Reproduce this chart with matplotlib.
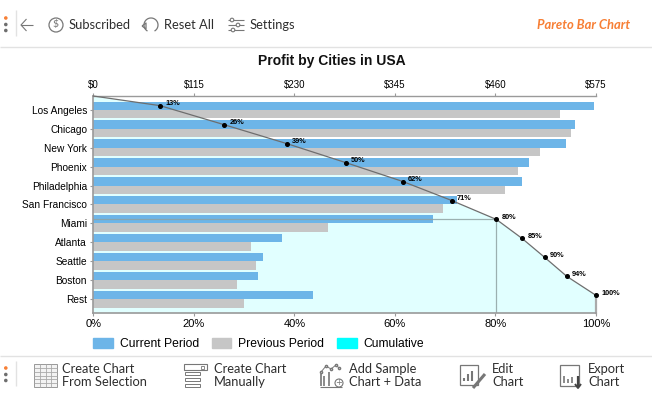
import matplotlib
matplotlib.use("Agg")
import matplotlib.pyplot as plt
from matplotlib.patches import Rectangle, Circle, Patch, Arc

cities = ["Los Angeles", "Chicago", "New York", "Phoenix", "Philadelphia", "San Francisco",
          "Miami", "Atlanta", "Seattle", "Boston", "Rest"]
current_period = [573, 551, 541, 498, 490, 416, 389, 216, 194, 188, 251]
previous_period = [534, 546, 511, 486, 471, 400, 268, 180, 186, 164, 172]
cumulative_pct = [13.3, 26.0, 38.5, 50.2, 61.6, 71.3, 80.2, 85.3, 89.8, 94.2, 100]
cumulative_labels = ["13%", "26%", "39%", "50%", "62%", "71%", "80%", "85%", "90%", "94%", "100%"]
dollar_ticks = [0, 115, 230, 345, 460, 575]
dollar_labels = ["$0", "$115", "$230", "$345", "$460", "$575"]
pct_ticks = [0, 20, 40, 60, 80, 100]
pct_labels = ["0%", "20%", "40%", "60%", "80%", "100%"]

W, H = 652, 400
ARIAL = "Liberation Sans"
UI = "Lato"
BLUE, GREY, CYAN, PALE = "#6DB5E8", "#C6C6C6", "#00FFFF", "#E1FFFF"
AXC = "#9A9A9A"
ICON = "#777777"
ORANGE = "#F77F35"

fig = plt.figure(figsize=(W / 100, H / 100), dpi=100, facecolor="white")
rect = [93.3 / W, 1 - 313 / H, (596 - 93.3) / W, (313 - 96) / H]
ax_fill = fig.add_axes(rect, zorder=1)
ax_bar = fig.add_axes(rect, zorder=2, facecolor="none")
ax_line = fig.add_axes(rect, zorder=3, facecolor="none")
ypos = list(range(len(cities)))
YMIN, YMAX = -0.72, len(cities) - 1 + 0.72
for a in (ax_fill, ax_bar, ax_line):
    a.set_ylim(YMAX, YMIN)
ax_fill.set_xlim(0, 100)
ax_line.set_xlim(0, 100)
ax_bar.set_xlim(0, 575)

line_y = [y - 0.21 for y in ypos]
ax_fill.fill_betweenx([YMIN] + line_y + [YMAX], 0, [0] + cumulative_pct + [100], color=PALE, lw=0)
ax_bar.barh([y - 0.215 for y in ypos], current_period, height=0.43, color=BLUE, lw=0)
ax_bar.barh([y + 0.225 for y in ypos], previous_period, height=0.45, color=GREY, lw=0)

ax_line.plot([0] + cumulative_pct, [YMIN] + line_y, color="#6E6E6E", lw=0.9, zorder=3, clip_on=False)
ax_line.plot(cumulative_pct, line_y, ls="none", marker="o", ms=2.6, color="black", zorder=4, clip_on=False)
ax_line.plot([0, cumulative_pct[6], cumulative_pct[6]], [line_y[6], line_y[6], YMAX],
             color="#8FA3A3", lw=0.9, alpha=0.85, zorder=2)
ax_line.plot([100, 100], [line_y[-1], YMAX], color="#AAAAAA", lw=1.6, zorder=2, clip_on=False)
for x, y, t in zip(cumulative_pct, line_y, cumulative_labels):
    ax_line.annotate(t, (x, y), xytext=(3.8, 1.5), textcoords="offset points", fontsize=5.3,
                     fontweight="bold", family=ARIAL, va="center", ha="left", color="black",
                     annotation_clip=False)

# axes and ticks
ax_line.set_xticks(pct_ticks, pct_labels, family=ARIAL, fontsize=8)
ax_line.set_yticks(ypos, cities, family=ARIAL, fontsize=7.3)
ax_line.tick_params(axis="x", length=2.5, color=AXC, pad=2)
ax_line.tick_params(axis="y", length=2.5, color=AXC, pad=2)
ax_bar.xaxis.tick_top()
ax_bar.set_xticks(dollar_ticks, dollar_labels, family=ARIAL, fontsize=7)
ax_bar.tick_params(axis="x", length=2.5, color=AXC, pad=2)
ax_bar.set_yticks([])
ax_fill.set_xticks([])
ax_fill.set_yticks([])
for a in (ax_fill, ax_bar):
    for s in a.spines.values():
        s.set_visible(False)
for s in ("top", "right"):
    ax_line.spines[s].set_visible(False)
for s in ("left", "bottom"):
    ax_line.spines[s].set_color(AXC)
    ax_line.spines[s].set_linewidth(1.2)
ax_bar.spines["top"].set_visible(True)
ax_bar.spines["top"].set_color(AXC)
ax_bar.spines["top"].set_linewidth(1.0)

fig.text(331.5 / W, 1 - 61 / H, "Profit by Cities in USA", family=ARIAL, fontweight="bold",
         fontsize=10, ha="center", va="center", color="#111111")

leg = fig.legend(
    handles=[Patch(color=BLUE, label="Current Period"), Patch(color=GREY, label="Previous Period"),
             Patch(color=CYAN, label="Cumulative")],
    ncol=3, loc="center left", bbox_to_anchor=(93 / W, 1 - 344 / H), frameon=False,
    prop={"family": ARIAL, "size": 8.7}, handlelength=1.65, handleheight=0.95, handletextpad=0.55,
    columnspacing=1.05, borderpad=0, borderaxespad=0)

# application toolbar chrome
ui = fig.add_axes([0, 0, 1, 1], zorder=5, facecolor="none")
ui.set_xlim(0, W)
ui.set_ylim(H, 0)
ui.axis("off")

def seg(xs, ys, c=ICON, lw=0.8):
    ui.plot(xs, ys, color=c, lw=lw, solid_capstyle="butt")

def box(x, y, w, h, c=ICON, lw=0.8, fc="none"):
    ui.add_patch(Rectangle((x, y), w, h, fc=fc, ec=c, lw=lw))

def label(x, y, t, size=9.3):
    ui.text(x, y, t, family=UI, fontsize=size, va="center", ha="left", color="#2E2E2E")

seg([0, W], [46.5, 46.5], "#E2E2E2", 1)
seg([0, W], [355.5, 355.5], "#E2E2E2", 1)
for cy0, sep in ((18, (10, 36)), (368, (361, 386))):
    ui.add_patch(Circle((5.8, cy0), 1.8, fc=ORANGE, ec="none"))
    ui.add_patch(Circle((5.8, cy0 + 6.5), 1.8, fc="#6E6E6E", ec="none"))
    ui.add_patch(Circle((5.8, cy0 + 12.5), 1.8, fc="#6E6E6E", ec="none"))
    seg([15.5, 15.5], sep, "#E2E2E2", 1)

# back arrow
seg([21, 33], [25, 25]); seg([26.5, 21, 26.5], [19, 25, 31])
# subscribed
ui.add_patch(Circle((56, 25), 7, fc="none", ec=ICON, lw=0.9))
ui.text(56, 25, "$", ha="center", va="center", fontsize=7.5, color=ICON, family=UI)
label(69, 25, "Subscribed")
# reset
ui.add_patch(Arc((151, 25), 14, 14, theta1=-240, theta2=60, ec=ICON, lw=0.9))
seg([142, 146, 146, 142], [26, 23, 29, 26], ICON, 0.9)
label(164, 25, "Reset All")
# settings
for y, kx in ((20, 232), (25, 238), (30, 233)):
    seg([228, 244], [y, y])
    ui.add_patch(Circle((kx, y), 1.8, fc="white", ec=ICON, lw=0.8, zorder=4))
label(250, 25, "Settings")
ui.text(630, 25, "Pareto Bar Chart", family=UI, fontsize=9.4, fontweight="bold", style="italic",
        color=ORANGE, ha="right", va="center")

# create from selection: table icon
box(34, 364, 23, 23, "#999999", 0.7, "#F3F3F3")
for i in range(1, 6):
    seg([34, 57], [364 + i * 23 / 6] * 2, "#AAAAAA", 0.6)
for i in range(1, 4):
    seg([34 + i * 23 / 4] * 2, [364, 387], "#AAAAAA", 0.6)
label(62, 369, "Create Chart"); label(62, 382, "From Selection")
# create manually: form icon
box(184, 364, 23, 6, ICON, 0.8); box(201, 365.5, 3, 3, ICON, 0.6)
for y in (373, 379, 385):
    box(185, y - 1.5, 15, 3.5, ICON, 0.7)
label(214, 369, "Create Chart"); label(214, 382, "Manually")
# add sample: mini chart icon
ui.plot([321, 326, 331, 336, 339], [372, 366, 369, 365, 368], color=ICON, lw=0.7, marker="o", ms=1.6, mfc="white")
for x, t in ((321, 374), (324, 376), (329, 372)):
    seg([x, x], [386, t], ICON, 1.2)
seg([320, 342], [386.5, 386.5], ICON, 0.8)
ui.add_patch(Circle((339, 383), 4, fc="white", ec=ICON, lw=0.8, zorder=4))
ui.text(339, 382.7, "+", fontsize=6, ha="center", va="center", color=ICON, zorder=5)
label(349, 369, "Add Sample"); label(349, 382, "Chart + Data")
# edit chart icon
box(460, 365, 18, 20, ICON, 0.9)
for x, t in ((464, 378), (468, 374), (472, 371)):
    seg([x, x], [381, t], ICON, 1.5)
seg([473, 485], [388, 374], ICON, 2.2)
label(492, 369, "Edit"); label(492, 382, "Chart")
# export chart icon
box(560, 365, 19, 21, ICON, 0.9)
for x, t in ((564, 376), (568, 379), (572, 377)):
    seg([x, x], [383, t], ICON, 1.2)
seg([578, 578], [376, 387], "#444444", 1.6)
seg([575, 578, 581], [384, 388, 384], "#444444", 1.4)
label(588, 369, "Export"); label(588, 382, "Chart")

fig.savefig("out.png", dpi=100, facecolor="white")
